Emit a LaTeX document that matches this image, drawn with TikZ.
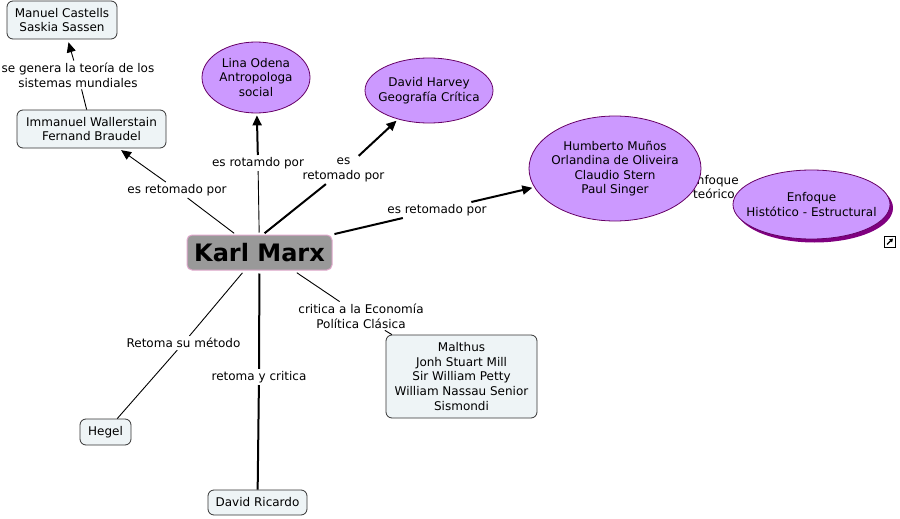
\documentclass[tikz,border=0pt]{standalone}
\usepackage{fontspec}
\setmainfont{DejaVu Sans}
\usetikzlibrary{arrows.meta,shapes.geometric,shadows}
\definecolor{boxfill}{HTML}{EEF4F6}
\definecolor{boxline}{HTML}{333333}
\definecolor{ellfill}{HTML}{CC99FF}
\definecolor{ellline}{HTML}{660066}
\definecolor{kmfill}{HTML}{999999}
\definecolor{kmline}{HTML}{E0A8CC}
\definecolor{shadowpurple}{HTML}{800080}
\begin{document}
\begin{tikzpicture}[x=1pt,y=-1pt,
  every node/.style={font=\fontsize{12}{14.6}\selectfont, align=center},
  conbox/.style={draw=boxline, fill=boxfill, rounded corners=6pt, line width=0.8pt, inner sep=2pt},
  conell/.style={ellipse, draw=ellline, fill=ellfill, line width=0.8pt, inner sep=0pt},
  linklab/.style={inner sep=2pt},
  thinlink/.style={line width=0.9pt},
  thicklink/.style={line width=2pt},
  arrowtip/.style={-{Triangle[length=10pt,width=9pt]}}
]
\useasboundingbox (0,0) rectangle (900,519);

% concept nodes
\node[conbox, minimum width=110pt, minimum height=38pt] (cast) at (62,20) {Manuel Castells\\Saskia Sassen};
\node[conbox, minimum width=149pt, minimum height=38pt] (wall) at (91.5,129) {Immanuel Wallerstain\\Fernand Braudel};
\node[conell, minimum width=108pt, minimum height=71pt, label={[align=center]center:{Lina Odena\\Antropologa\\social}}] (lina) at (256,77.5) {};
\node[conell, minimum width=128pt, minimum height=65pt, label={[align=center]center:{David Harvey\\Geografía Crítica}}] (harv) at (429,90.5) {};
\node[linklab] (l6) at (714,187) {Enfoque\\teórico};
\node[conell, minimum width=172pt, minimum height=105pt, label={[align=center]center:{Humberto Muños\\Orlandina de Oliveira\\Claudio Stern\\Paul Singer}}] (hum) at (615,168.5) {};
\node[conell, minimum width=157pt, minimum height=69pt, drop shadow={shadow xshift=3pt, shadow yshift=-3.5pt, fill=shadowpurple, opacity=1}, label={[align=center]center:{Enfoque\\Histótico - Estructural}}] (enf) at (811.5,204.5) {};
\node[draw=kmline, fill=kmfill, rounded corners=5pt, line width=1pt, minimum width=145pt, minimum height=35pt, font=\bfseries\fontsize{24}{26}\selectfont] (km) at (259.5,252.5) {Karl Marx};
\node[conbox, minimum width=151pt, minimum height=83pt] (malt) at (461.5,376.5) {Malthus\\Jonh Stuart Mill\\Sir William Petty\\William Nassau Senior\\Sismondi};
\node[conbox, minimum width=51pt, minimum height=26pt] (hegel) at (105.5,432) {Hegel};
\node[conbox, minimum width=99pt, minimum height=25pt] (ric) at (257.5,502.5) {David Ricardo};

% link labels
\node[linklab] (l1) at (78,75) {se genera la teoría de los\\sistemas mundiales};
\node[linklab] (l2) at (177,190) {es retomado por};
\node[linklab] (l3) at (258,163) {es rotamdo por};
\node[linklab] (l4) at (343.5,170) {es\\retomado por};
\node[linklab] (l5) at (437,210) {es retomado por};
\node[linklab] (l7) at (183.5,343) {Retoma su método};
\node[linklab] (l8) at (259,377) {retoma y critica};
\node[linklab] (l9) at (361,316) {critica a la Economía\\Política Clásica};

% link icon
\node[draw, line width=0.8pt, minimum size=11pt, inner sep=0pt] (icon) at (890,241.5) {};
\draw[line width=1.1pt, -{Triangle[length=3.5pt,width=4pt]}] ([shift={(-3pt,-3pt)}]icon.center) -- ([shift={(3pt,3pt)}]icon.center);

% connectors
\draw[thinlink, shorten <=2pt] (km) -- (l2);
\draw[thinlink, arrowtip, shorten >=3pt] (l2) -- (wall);
\draw[thinlink] (wall) -- (l1);
\draw[thinlink, arrowtip, shorten >=3pt] (l1) -- (cast);
\draw[thinlink, shorten <=2pt] (km) -- (l3);
\draw[thicklink, arrowtip, shorten >=2pt] (l3) -- (lina);
\draw[thicklink, shorten <=2pt] ([xshift=3.5pt]km.north) -- (l4);
\draw[thicklink, arrowtip, shorten >=2pt] (l4) -- (harv);
\draw[thicklink, shorten <=2pt] (km.north east) -- (l5);
\draw[thicklink, arrowtip, shorten >=2pt] (l5) -- (hum);
\draw[thinlink, shorten <=3pt] (km) -- (l7);
\draw[thinlink] (l7) -- (hegel);
\draw[thicklink, shorten <=3pt] (km) -- (l8);
\draw[thicklink] (l8) -- (ric);
\draw[thinlink, shorten <=4pt] ([xshift=34pt]km.south) -- (l9);
\draw[thinlink] (l9) -- (malt);
\end{tikzpicture}
\end{document}
